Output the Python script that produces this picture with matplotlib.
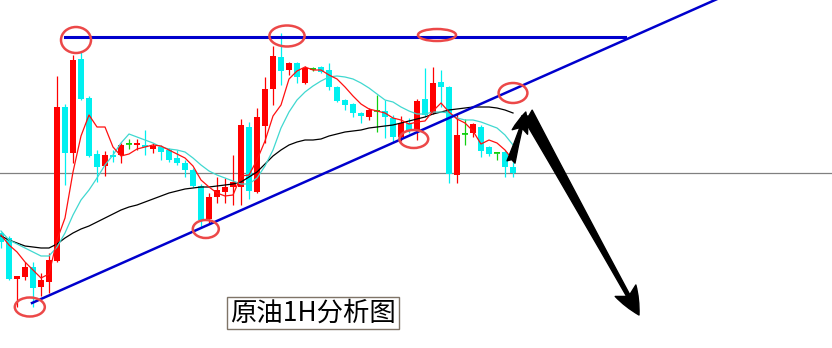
"""
原油 1H 走势分析图：K线 + 三条均线 + 三角形整理趋势线与后市箭头。
"""

import matplotlib

matplotlib.use("Agg")
import matplotlib.pyplot as plt
import numpy as np
from matplotlib.patches import Ellipse

# K线数据（每根为 1 小时，价格为图内相对点位）
OPEN = [115, 110, 69, 71, 81, 61, 66, 87, 241, 195,
        289, 250, 194, 182, 193, 193, 204, 203, 203, 199,
        201, 198, 190, 185, 178, 162, 129, 151, 156, 161,
        161, 221, 156, 222, 259, 291, 278, 285, 265, 279,
        281, 278, 261, 248, 244, 235, 231, 237, 237, 230,
        211, 225, 218, 249, 235, 266, 261, 173, 214, 215,
        221, 201, 195, 196, 181]
HIGH = [116, 112, 72, 86, 86, 75, 95, 272, 244, 293,
        296, 252, 198, 197, 198, 205, 209, 209, 218, 205,
        203, 200, 198, 188, 180, 164, 155, 171, 170, 193,
        229, 226, 240, 271, 302, 315, 286, 286, 282, 281,
        282, 285, 262, 249, 245, 236, 240, 253, 248, 233,
        232, 230, 249, 280, 281, 278, 262, 235, 229, 225,
        223, 202, 195, 198, 186]
LOW = [100, 68, 41, 68, 41, 52, 55, 86, 163, 185,
       248, 191, 166, 172, 186, 185, 199, 198, 193, 195,
       188, 186, 183, 171, 161, 121, 125, 145, 145, 143,
       143, 149, 155, 205, 243, 263, 273, 265, 264, 277,
       275, 258, 246, 238, 231, 225, 228, 216, 210, 206,
       207, 215, 208, 231, 234, 241, 165, 165, 203, 211,
       191, 192, 188, 171, 171]
CLOSE = [106, 69, 72, 81, 60, 68, 88, 241, 195, 288,
         249, 192, 181, 193, 191, 203, 204, 205, 201, 202,
         196, 188, 185, 178, 162, 128, 151, 158, 161, 166,
         223, 157, 231, 259, 292, 277, 285, 271, 280, 279,
         276, 261, 247, 243, 235, 232, 238, 237, 231, 211,
         225, 217, 247, 233, 265, 261, 174, 213, 214, 224,
         197, 194, 195, 181, 175]

# 均线（快线红、中线青、慢线黑）
MA_FAST = [113, 103, 96, 86, 78, 70, 74, 108, 130, 176,
           212, 233, 221, 221, 201, 192, 194, 199, 201, 203,
           202, 198, 194, 190, 182, 168, 161, 155, 152, 153,
           172, 173, 188, 207, 232, 243, 269, 277, 281, 278,
           278, 273, 269, 261, 252, 244, 239, 237, 235, 230,
           228, 224, 226, 227, 237, 245, 236, 229, 225, 217,
           204, 208, 205, 198, 188]
MA_MID = [117, 108, 104, 100, 96, 92, 92, 101, 115, 133,
          148, 158, 170, 183, 193, 205, 214, 211, 208, 205,
          201, 199, 198, 196, 190, 183, 177, 173, 170, 167,
          164, 164, 170, 182, 198, 220, 236, 248, 256, 262,
          267, 271, 272, 271, 269, 265, 260, 254, 248, 246,
          241, 237, 234, 234, 236, 236, 235, 230, 228, 228,
          226, 223, 220, 213, 203]
MA_SLOW = [112, 108, 105, 102, 101, 100, 100, 104, 110, 115,
           119, 122, 126, 130, 134, 138, 141, 143, 146, 149,
           152, 155, 157, 159, 160, 161, 161, 162, 163, 164,
           166, 171, 176, 184, 192, 198, 203, 206, 208, 208,
           209, 212, 214, 216, 217, 218, 220, 221, 222, 223,
           225, 227, 229, 231, 234, 236, 238, 239, 240, 241,
           241, 241, 240, 238, 235]

# 趋势线：上方压力水平线、下方支撑斜线、中间参考线
RESIST_X = [8, 78]
RESIST_Y = [311, 311]
SUPPORT_X = [3.875, 95]
SUPPORT_Y = [45, 368.4]
MID_LEVEL = 175

# 关键高低点标记 (x, y, 宽, 高)
MARKS = [
    (9.375, 308, 3.75, 26),
    (35.75, 312, 4.4, 21),
    (54.5, 313, 4.75, 12),
    (64.0, 255, 3.6, 20),
    (51.6, 209, 3.6, 18),
    (25.6, 119, 3.25, 18),
    (3.6, 41, 3.75, 19),
]

UP = "#ff0000"
DOWN = "#00f0f0"
FLAT = "#10d010"

o = np.array(OPEN, dtype=float)
c = np.array(CLOSE, dtype=float)
h = np.array(HIGH, dtype=float)
lo = np.array(LOW, dtype=float)
x = np.arange(len(o))
colors = np.where(c > o, UP, np.where(c < o, DOWN, FLAT))

fig = plt.figure(figsize=(8.32, 3.48), dpi=100)
ax = fig.add_axes([0, 0, 1, 1])
ax.set_xlim(-0.125, 103.875)
ax.set_ylim(0, 348)
ax.axis("off")

ax.axhline(MID_LEVEL, color="#808080", lw=0.9, zorder=1)

# 影线与实体
ax.vlines(x, lo, h, colors=colors, lw=0.9, zorder=2)
body = np.maximum(np.abs(c - o), 1.0)
ax.bar(x, body, bottom=np.minimum(o, c), width=0.7, color=colors,
       linewidth=0, zorder=3)
flat = c == o
ax.hlines(c[flat], x[flat] - 0.35, x[flat] + 0.35, colors=FLAT, lw=1.2, zorder=3)

ax.plot(x, MA_SLOW, color="#000000", lw=0.9, zorder=4)
ax.plot(x, MA_MID, color="#40d8d0", lw=0.9, zorder=4)
ax.plot(x, MA_FAST, color="#ff1010", lw=0.9, zorder=4)

ax.plot(RESIST_X, RESIST_Y, color="#0000cd", lw=2.2, zorder=5)
ax.plot(SUPPORT_X, SUPPORT_Y, color="#0000cd", lw=1.8, zorder=5)

for mx, my, mw, mh in MARKS:
    ax.add_patch(Ellipse((mx, my), mw, mh, fill=False, edgecolor="#ec4848",
                         lw=1.8, zorder=6))

# 反抽后下行的方向箭头
ax.annotate("", xy=(65.6, 236), xytext=(63.75, 186),
            arrowprops=dict(arrowstyle="fancy,head_length=1.5,head_width=1.15,tail_width=0.6",
                            color="black", mutation_scale=10, shrinkA=0, shrinkB=0),
            zorder=7)
ax.annotate("", xy=(79.75, 33), xytext=(65.75, 235),
            arrowprops=dict(arrowstyle="fancy,head_length=2.0,head_width=1.7,tail_width=0.85",
                            color="black", mutation_scale=10, shrinkA=0, shrinkB=0),
            zorder=7)

ax.text(39, 35, "原油1H分析图", fontsize=19, ha="center", va="center",
        family=["Noto Sans CJK SC", "DejaVu Sans"], color="black",
        bbox=dict(boxstyle="square,pad=0.1", facecolor="white",
                  edgecolor="#7f7467", lw=1))

fig.savefig("out.png", dpi=100)
plt.close(fig)
